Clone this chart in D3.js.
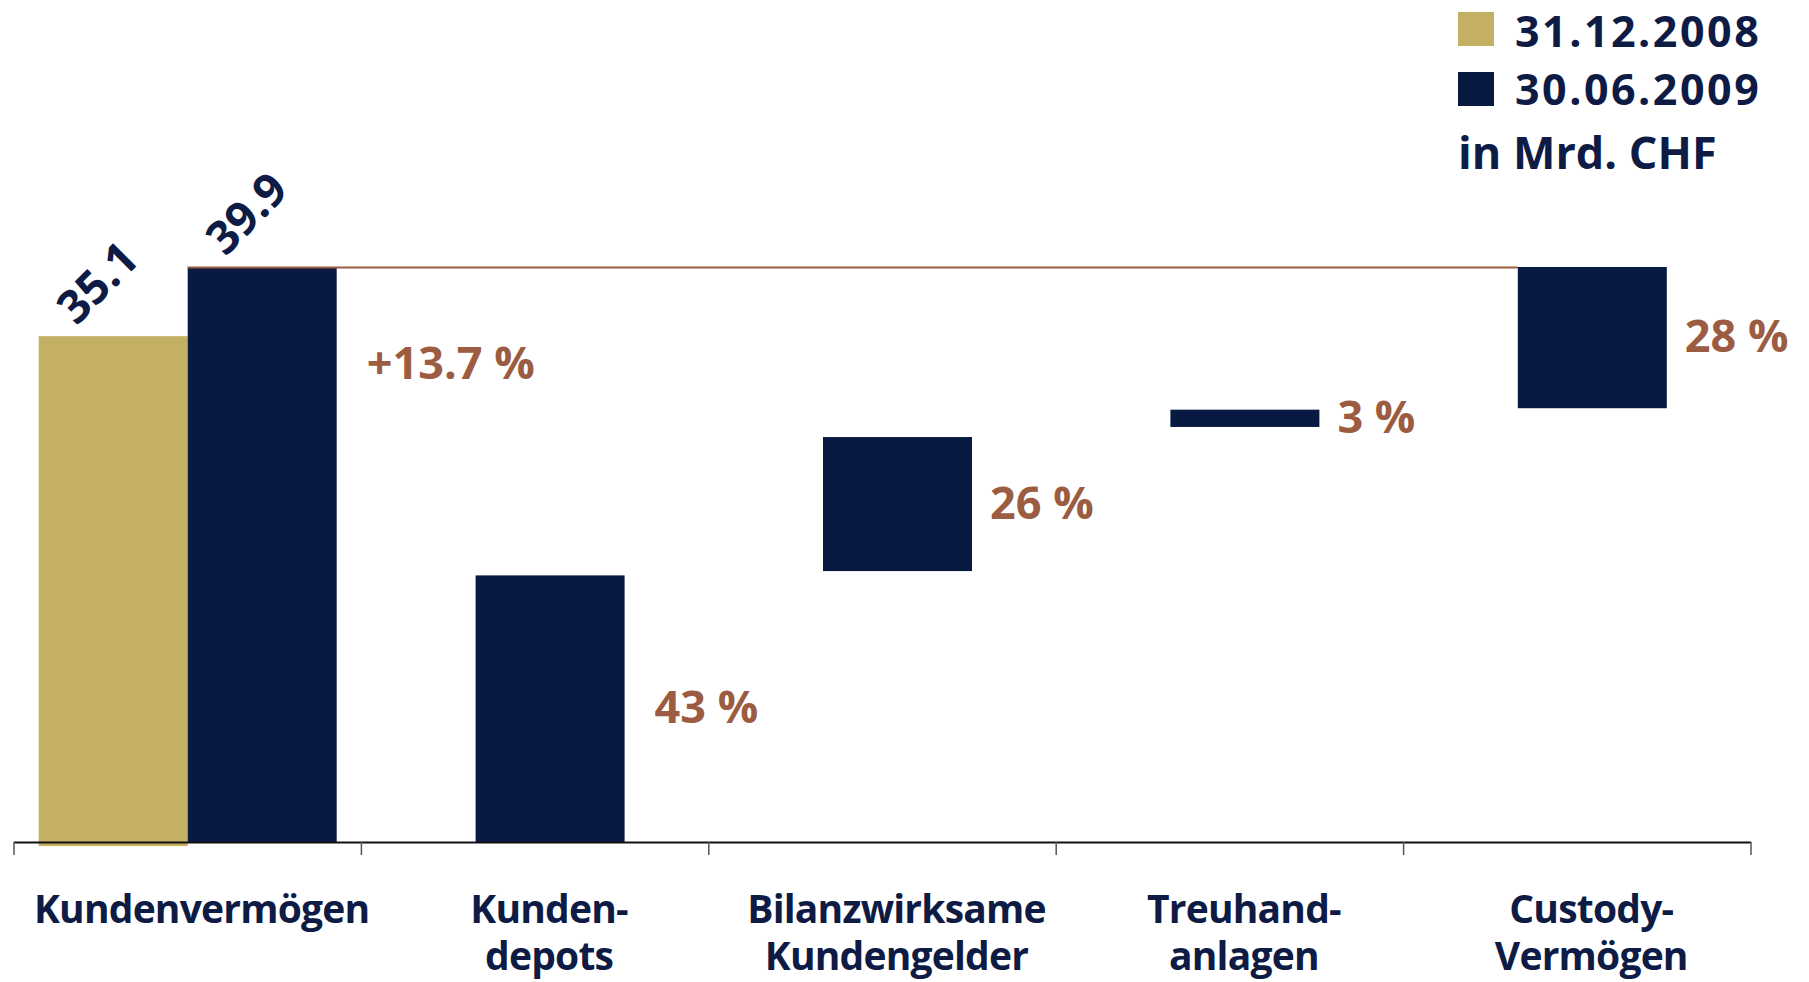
<!DOCTYPE html>
<html>
<head>
<meta charset="utf-8">
<script src="https://cdn.jsdelivr.net/npm/d3@7"></script>
<style>
  html, body { margin: 0; padding: 0; background: #fff; }
  svg { display: block; }
  text { font-family: "Open Sans", "DejaVu Sans", sans-serif; font-weight: 700; }
</style>
</head>
<body>
<svg id="chart" width="1809" height="982"></svg>
<script>
// ---- data ----
const categories = ["Kundenvermögen", "Kunden-\ndepots", "Bilanzwirksame\nKundengelder", "Treuhand-\nanlagen", "Custody-\nVermögen"];
const seriesNames = ["31.12.2008", "30.06.2009"];
const totalValues = [35.1, 39.9];            // Kundenvermögen at both dates
const totalLabels = ["35.1", "39.9"];
const changeLabel = "+13.7 %";
const partCategories = categories.slice(1);
const partStart = [0, 18.8, 28.8, 30.1];      // waterfall segment start (Mrd. CHF)
const partEnd = [18.5, 28.1, 30.0, 39.9];     // waterfall segment end
const partLabels = ["43 %", "26 %", "3 %", "28 %"];
const unitLabel = "in Mrd. CHF";

// ---- style ----
const GOLD = "#c3b063", NAVY = "#081942", BROWN = "#9b5c41", TEXT = "#0e1b45";

const svg = d3.select("#chart");
const x = d3.scaleBand().domain(categories).range([14, 1751]).padding(0);
const y = d3.scaleLinear().domain([0, 39.9]).range([842, 267]);
const bw = x.bandwidth();
const barW = 149;
const shift = 15;

// Kundenvermögen pair
const c0 = x(categories[0]) + bw / 2;
const pair = d3.scaleBand().domain(seriesNames).range([c0 - barW, c0 + barW]);
svg.selectAll("rect.total").data(totalValues).enter().append("rect")
  .attr("class", "total")
  .attr("x", (d, i) => pair(seriesNames[i]))
  .attr("width", pair.bandwidth())
  .attr("y", d => y(d))
  .attr("height", (d, i) => y(0) - y(d) + (i === 0 ? 4 : 0))
  .attr("fill", (d, i) => i === 0 ? GOLD : NAVY);

// reference line at the 30.06.2009 total
svg.append("line")
  .attr("x1", pair(seriesNames[1])).attr("x2", x(categories[4]) + bw / 2 + shift - barW / 2)
  .attr("y1", y(totalValues[1]) + 0.5).attr("y2", y(totalValues[1]) + 0.5)
  .attr("stroke", BROWN).attr("stroke-width", 2);

// rotated total labels
svg.selectAll("text.total").data(totalValues).enter().append("text")
  .attr("class", "total")
  .attr("transform", (d, i) => {
    const cx = pair(seriesNames[i]) + pair.bandwidth() / 2 - 17;
    const cy = y(d) - 55;
    return `translate(${cx},${cy}) rotate(-45)`;
  })
  .attr("text-anchor", "middle").attr("dominant-baseline", "central")
  .attr("font-size", 46).attr("fill", TEXT)
  .text((d, i) => totalLabels[i]);

// change label
svg.append("text")
  .attr("x", pair(seriesNames[1]) + pair.bandwidth() + 30)
  .attr("y", y(totalValues[1]) + 94)
  .attr("dominant-baseline", "central")
  .attr("font-size", 45).attr("fill", BROWN)
  .text(changeLabel);

// waterfall parts
const parts = partCategories.map((c, i) => ({ c, s: partStart[i], e: partEnd[i], l: partLabels[i] }));
svg.selectAll("rect.part").data(parts).enter().append("rect")
  .attr("class", "part")
  .attr("x", d => x(d.c) + bw / 2 + shift - barW / 2)
  .attr("width", barW)
  .attr("y", d => y(d.e))
  .attr("height", d => y(d.s) - y(d.e))
  .attr("fill", NAVY);
svg.selectAll("text.part").data(parts).enter().append("text")
  .attr("class", "part")
  .attr("x", d => x(d.c) + bw / 2 + shift + barW / 2 + (d.s === 0 ? 30 : 18))
  .attr("y", d => (y(d.s) + y(d.e)) / 2 - 3)
  .attr("dominant-baseline", "central")
  .attr("font-size", 45).attr("fill", BROWN)
  .text(d => d.l);

// axis
svg.append("line")
  .attr("x1", x.range()[0]).attr("x2", x.range()[1])
  .attr("y1", y(0) + 0.5).attr("y2", y(0) + 0.5)
  .attr("stroke", "#111").attr("stroke-width", 2);
const bounds = categories.map(c => x(c)).concat([x.range()[1]]);
svg.selectAll("line.tick").data(bounds).enter().append("line")
  .attr("class", "tick")
  .attr("x1", d => d).attr("x2", d => d)
  .attr("y1", y(0)).attr("y2", y(0) + 13)
  .attr("stroke", "#555").attr("stroke-width", 1.5);

// category labels
categories.forEach(c => {
  const lines = c.split("\n");
  const t = svg.append("text")
    .attr("text-anchor", "middle")
    .attr("font-size", 39).attr("letter-spacing", "-0.8px").attr("fill", TEXT);
  lines.forEach((ln, j) => {
    t.append("tspan")
      .attr("x", x(c) + bw / 2 + 14)
      .attr("y", 923 + j * 47)
      .text(ln);
  });
});

// legend
const legColors = [GOLD, NAVY];
seriesNames.forEach((s, i) => {
  svg.append("rect").attr("x", 1458).attr("y", 12 + i * 60).attr("width", 36).attr("height", 34).attr("fill", legColors[i]);
  svg.append("text").attr("x", 1515).attr("y", 47 + i * 58).attr("font-size", 43).attr("letter-spacing", "2.5px").attr("fill", TEXT).text(s);
});
svg.append("text").attr("x", 1458).attr("y", 169).attr("font-size", 45).attr("fill", TEXT).text(unitLabel);
</script>
</body>
</html>
